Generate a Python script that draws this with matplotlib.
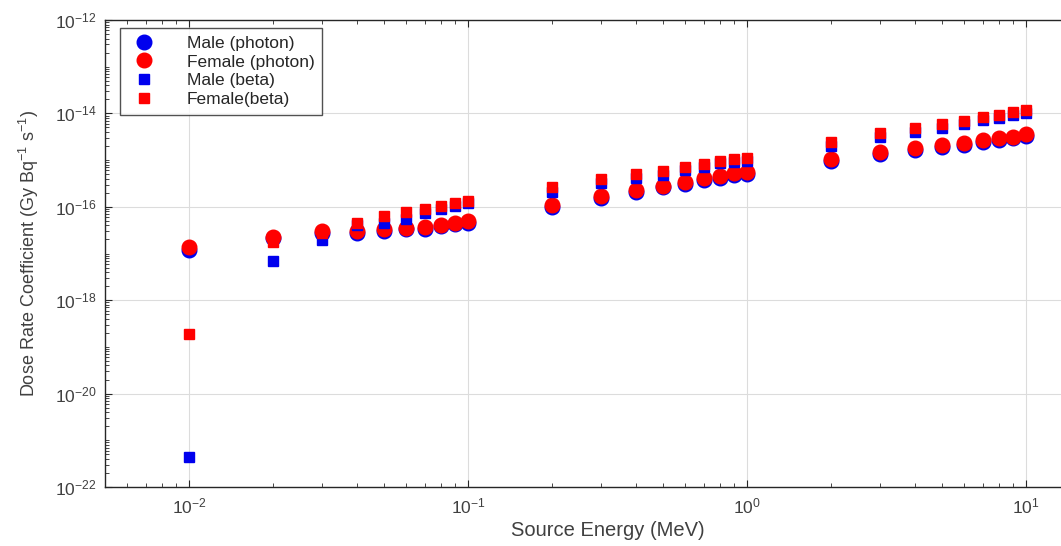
import matplotlib
matplotlib.use('Agg')
import matplotlib.pyplot as plt
import matplotlib.ticker as mticker
import numpy as np

plt.rcParams['font.family'] = ['Liberation Sans', 'DejaVu Sans']
plt.rcParams['mathtext.fontset'] = 'custom'
plt.rcParams['mathtext.rm'] = 'Liberation Sans'

energy = [0.01, 0.02, 0.03, 0.04, 0.05, 0.06, 0.07, 0.08, 0.09, 0.1,
          0.2, 0.3, 0.4, 0.5, 0.6, 0.7, 0.8, 0.9, 1.0,
          2, 3, 4, 5, 6, 7, 8, 9, 10]

male_photon = [1.2e-17, 2.1e-17, 2.8e-17, 2.8e-17, 3.1e-17, 3.3e-17, 3.4e-17, 3.8e-17, 4.2e-17, 4.6e-17,
               9.8e-17, 1.55e-16, 2.1e-16, 2.6e-16, 3.1e-16, 3.8e-16, 4.2e-16, 4.9e-16, 5.1e-16,
               9.8e-16, 1.38e-15, 1.65e-15, 1.9e-15, 2.15e-15, 2.45e-15, 2.75e-15, 2.95e-15, 3.3e-15]
female_photon = [1.35e-17, 2.3e-17, 3.1e-17, 3.0e-17, 3.4e-17, 3.6e-17, 3.7e-17, 4.1e-17, 4.6e-17, 5.0e-17,
                 1.07e-16, 1.7e-16, 2.3e-16, 2.8e-16, 3.4e-16, 4.2e-16, 4.6e-16, 5.4e-16, 5.6e-16,
                 1.07e-15, 1.5e-15, 1.8e-15, 2.1e-15, 2.35e-15, 2.7e-15, 3.0e-15, 3.2e-15, 3.6e-15]
male_beta = [4.4e-22, 7e-18, 1.9e-17, 4.0e-17, 4.6e-17, 5.6e-17, 7.5e-17, 9.0e-17, 1.05e-16, 1.2e-16,
             2.1e-16, 3.2e-16, 4.2e-16, 4.9e-16, 6.0e-16, 7.2e-16, 8.5e-16, 9.2e-16, 9.7e-16,
             2.0e-15, 3.1e-15, 4.0e-15, 4.9e-15, 6.0e-15, 7.3e-15, 8.0e-15, 9.3e-15, 1.02e-14]
female_beta = [1.9e-19, 1.8e-17, 2.8e-17, 4.6e-17, 6.4e-17, 7.9e-17, 9.1e-17, 1.05e-16, 1.2e-16, 1.35e-16,
               2.7e-16, 4.0e-16, 5.1e-16, 5.9e-16, 7.2e-16, 8.4e-16, 9.7e-16, 1.07e-15, 1.12e-15,
               2.45e-15, 3.8e-15, 4.9e-15, 6.0e-15, 6.9e-15, 8.5e-15, 9.3e-15, 1.07e-14, 1.2e-14]

y_ticks = [1e-22, 1e-20, 1e-18, 1e-16, 1e-14, 1e-12]
x_ticks = [1e-2, 1e-1, 1e0, 1e1]

fig = plt.figure(figsize=(10.61, 5.46), dpi=100)
ax = fig.add_axes([105 / 1061, 59 / 546, 1005 / 1061, 467 / 546])

ax.loglog(energy, male_photon, 'o', color='#0000ee', markersize=10.5, label='Male (photon)', zorder=3)
ax.loglog(energy, female_photon, 'o', color='#ff0000', markersize=10.5, label='Female (photon)', zorder=3)
ax.loglog(energy, male_beta, 's', color='#0000ee', markersize=7.5, label='Male (beta)', zorder=3)
ax.loglog(energy, female_beta, 's', color='#ff0000', markersize=7.5, label='Female(beta)', zorder=3)

ax.set_xlim(0.005, 20)
ax.set_ylim(1e-22, 1e-12)

ax.set_yticks(y_ticks)
ax.set_xticks(x_ticks)
ax.yaxis.set_minor_locator(mticker.LogLocator(base=10, subs=np.arange(1, 10), numticks=50))
ax.yaxis.set_minor_formatter(mticker.NullFormatter())
ax.xaxis.set_minor_locator(mticker.LogLocator(base=10, subs=np.arange(2, 10), numticks=20))
ax.xaxis.set_minor_formatter(mticker.NullFormatter())

ax.grid(True, which='major', color='#dcdcdc', linewidth=0.8)
ax.set_axisbelow(True)
ax.tick_params(which='both', direction='in', top=True, right=True, colors='#262626',
               labelsize=12.5, labelcolor='#404040')
ax.tick_params(which='major', length=5, pad=6)
ax.tick_params(axis='x', which='major', pad=7)
ax.tick_params(which='minor', length=3)
for s in ax.spines.values():
    s.set_color('#262626')
    s.set_linewidth(1.0)

ax.set_xlabel('Source Energy (MeV)', fontsize=14.5, color='#404040', labelpad=3)
ax.set_ylabel('Dose Rate Coefficient (Gy Bq$^{-1}$ s$^{-1}$)', fontsize=13, color='#404040', labelpad=10)

leg = ax.legend(loc='upper left', bbox_to_anchor=(0.015, 0.983), borderaxespad=0, fontsize=12.5,
                frameon=True, fancybox=False, edgecolor='#262626', handletextpad=1.6, borderpad=0.45,
                labelspacing=0.2, handlelength=1.8)
leg.get_frame().set_linewidth(1.0)
for t in leg.get_texts():
    t.set_color('#262626')

fig.savefig('out.png', dpi=100)
